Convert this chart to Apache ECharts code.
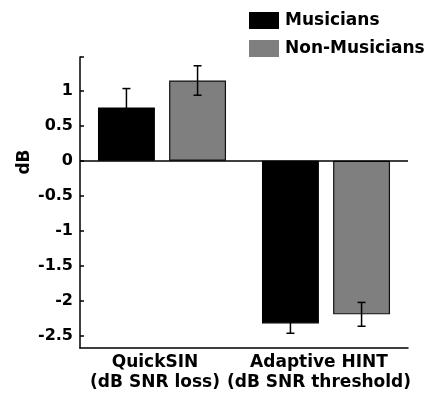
<!DOCTYPE html>
<html><head><meta charset="utf-8">
<script src="https://cdn.jsdelivr.net/npm/echarts@6/dist/echarts.min.js"></script>
<style>html,body{margin:0;padding:0;background:#fff}#c{width:430px;height:396px}</style>
</head><body><div id="c"></div>
<script>
// ---- data ----
const categories = ['QuickSIN\n(dB SNR loss)', 'Adaptive HINT\n(dB SNR threshold)'];
const seriesNames = ['Musicians', 'Non-Musicians'];
const musicians = [0.76, -2.32];
const nonMusicians = [1.145, -2.19];
const musiciansErr = [0.27, 0.14];
const nonMusiciansErr = [0.21, 0.17];
const yTickLabels = [-2.5, -2, -1.5, -1, -0.5, 0, 0.5, 1];
const yMin = -2.67, yMax = 1.48;
const yName = 'dB';

// ---- style ----
const FONT = 'DejaVu Sans';
const BAR_W = 0.347, BAR_GAP = 0.25;
const colors = ['#000000', '#7f7f7f'];

const errData = [];
musicians.forEach((v, i) => errData.push([i, v, musiciansErr[i], -1]));
nonMusicians.forEach((v, i) => errData.push([i, v, nonMusiciansErr[i], 1]));

function renderErr(params, api) {
  const ci = api.value(0), v = api.value(1), e = api.value(2), side = api.value(3);
  const band = api.size([1, 0])[0];
  const off = side * band * BAR_W * (1 + BAR_GAP) / 2;
  const p1 = api.coord([ci, v + e]);
  const p2 = api.coord([ci, v - e]);
  const x = p1[0] + off;
  const cap = 4;
  const st = { stroke: '#000', lineWidth: 1.5 };
  return {
    type: 'group',
    children: [
      { type: 'line', shape: { x1: x, y1: p1[1], x2: x, y2: p2[1] }, style: st },
      { type: 'line', shape: { x1: x - cap, y1: p1[1], x2: x + cap, y2: p1[1] }, style: st },
      { type: 'line', shape: { x1: x - cap, y1: p2[1], x2: x + cap, y2: p2[1] }, style: st }
    ]
  };
}

const chart = echarts.init(document.getElementById('c'), null, { renderer: 'canvas' });
chart.setOption({
  animation: false,
  backgroundColor: '#fff',
  textStyle: { fontFamily: FONT },
  grid: { left: 80, right: 22, top: 57, bottom: 48, containLabel: false },
  legend: {
    orient: 'vertical', left: 249, top: 12, padding: 0,
    itemWidth: 30, itemHeight: 17, itemGap: 11,
    icon: 'rect',
    itemStyle: { borderWidth: 0 },
    textStyle: { fontFamily: FONT, fontWeight: 'bold', fontSize: 17, color: '#000', padding: [0, 0, 0, 1] },
    data: seriesNames
  },
  xAxis: {
    type: 'category', data: categories,
    axisLine: { onZero: false, lineStyle: { color: '#000', width: 1.5 } },
    axisTick: { show: false },
    axisLabel: { color: '#000', fontFamily: FONT, fontWeight: 'bold', fontSize: 17, lineHeight: 20, margin: 5, interval: 0, padding: [0, 14, 0, 0] }
  },
  yAxis: {
    type: 'value', min: yMin, max: yMax,
    axisLine: { show: true, lineStyle: { color: '#000', width: 1.5 } },
    axisTick: { show: true, inside: true, length: 4, lineStyle: { color: '#000', width: 1.5 }, customValues: yTickLabels.concat([yMax]) },
    axisLabel: { color: '#000', fontFamily: FONT, fontWeight: 'bold', fontSize: 16, margin: 7, customValues: yTickLabels },
    splitLine: { show: false }
  },
  graphic: [{
    type: 'text', x: 25, y: 162, rotation: Math.PI / 2,
    style: { text: yName, fill: '#000', font: 'bold 17px "DejaVu Sans"', align: 'center', verticalAlign: 'middle' }
  }],
  series: [
    {
      name: seriesNames[0], type: 'bar', data: musicians,
      barWidth: (BAR_W * 100) + '%', barGap: (BAR_GAP * 100) + '%',
      itemStyle: { color: colors[0], borderColor: '#000', borderWidth: 1.2 },
      markLine: {
        silent: true, symbol: 'none', label: { show: false },
        lineStyle: { color: '#000', width: 1.5, type: 'solid' },
        data: [{ yAxis: 0 }]
      }
    },
    {
      name: seriesNames[1], type: 'bar', data: nonMusicians,
      barWidth: (BAR_W * 100) + '%', barGap: (BAR_GAP * 100) + '%',
      itemStyle: { color: colors[1], borderColor: '#111', borderWidth: 1.2 }
    },
    {
      type: 'custom', renderItem: renderErr, data: errData, z: 10,
      encode: { x: 0, y: 1 }, silent: true
    }
  ]
});
</script>
</body></html>
